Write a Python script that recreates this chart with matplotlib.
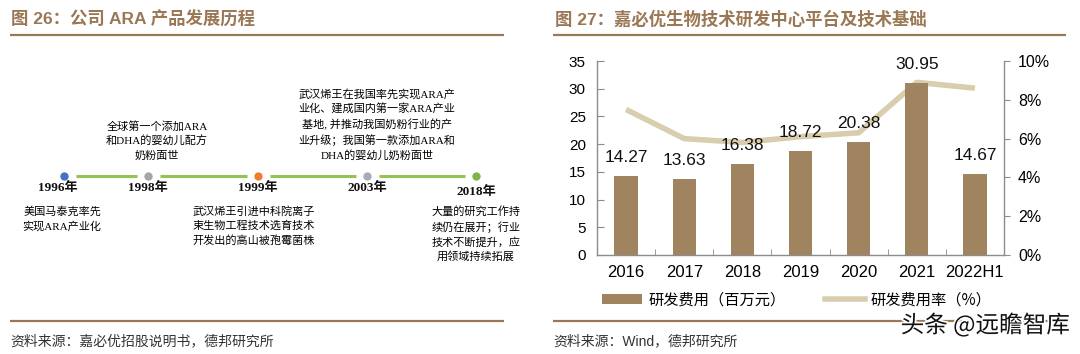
import matplotlib
matplotlib.use("Agg")
import matplotlib.pyplot as plt
from matplotlib.lines import Line2D
from matplotlib.patches import Patch
import matplotlib.patheffects as pe

# ---------------- data ----------------
categories = ["2016", "2017", "2018", "2019", "2020", "2021", "2022H1"]
rd_expense = [14.27, 13.63, 16.38, 18.72, 20.38, 30.95, 14.67]
rd_ratio = [7.5, 6.0, 5.8, 6.1, 6.3, 8.9, 8.6]  # %

years = ["1996年", "1998年", "1999年", "2003年", "2018年"]
events = [
    "美国马泰克率先\n实现ARA产业化",
    "全球第一个添加ARA\n和DHA的婴幼儿配方\n奶粉面世",
    "武汉烯王引进中科院离子\n束生物工程技术选育技术\n开发出的高山被孢霉菌株",
    "武汉烯王在我国率先实现ARA产\n业化、建成国内第一家ARA产业\n基地, 并推动我国奶粉行业的产\n业升级；我国第一款添加ARA和\nDHA的婴幼儿奶粉面世",
    "大量的研究工作持\n续仍在展开；行业\n技术不断提升，应\n用领域持续拓展",
]
event_side = ["below", "above", "below", "above", "below"]

title_left = "图 26：公司 ARA 产品发展历程"
title_right = "图 27：嘉必优生物技术研发中心平台及技术基础"
source_left = "资料来源：嘉必优招股说明书，德邦研究所"
source_right = "资料来源：Wind，德邦研究所"
legend_labels = ["研发费用（百万元）", "研发费用率（%）"]
watermark = "头条 @远瞻智库"

# ---------------- styles ----------------
CJK = ["Noto Sans CJK SC", "DejaVu Sans"]
SERIF_CJK = ["Liberation Serif", "Noto Sans CJK SC", "DejaVu Sans"]
SANS = ["Liberation Sans", "Noto Sans CJK SC", "DejaVu Sans"]
plt.rcParams["font.family"] = CJK
TITLE_C = "#9B7855"
BAR_C = "#A0845F"
LINE_C = "#D8CEAD"
AX_C = "#8C8C8C"
dot_colors = ["#4472C4", "#A5A5A5", "#ED7D31", "#ABABB8", "#7DB54A"]
GREEN = "#92C353"

W, H = 1080, 354
fig = plt.figure(figsize=(W / 100, H / 100), dpi=100)

# overlay axes in pixel coordinates for decoration
deco = fig.add_axes([0, 0, 1, 1])
deco.set_xlim(0, W)
deco.set_ylim(H, 0)
deco.axis("off")

# titles + rules
deco.text(11, 19, title_left, fontsize=12.5, fontweight="bold", color=TITLE_C,
          va="center", ha="left", family=SANS)
deco.text(555, 19, title_right, fontsize=12.5, fontweight="bold", color=TITLE_C,
          va="center", ha="left", family=SANS)
for x0, x1 in [(10, 504), (553, 1066)]:
    deco.plot([x0, x1], [35, 35], color=TITLE_C, lw=1.6, solid_capstyle="butt")
    deco.plot([x0, x1], [321, 321], color=TITLE_C, lw=1.6, solid_capstyle="butt")
deco.text(10, 341, source_left, fontsize=10, color="#333333", va="center", ha="left")
deco.text(553, 341, source_right, fontsize=10, color="#333333", va="center",
          ha="left", family=SANS)

# ---------------- timeline ----------------
node_x = [64, 148, 258, 367, 476]
node_y = 176
for i in range(len(node_x) - 1):
    deco.plot([node_x[i] + 12, node_x[i + 1] - 11], [node_y, node_y],
              color=GREEN, lw=2.2, solid_capstyle="butt")
for i, (x, yr, ev, side) in enumerate(zip(node_x, years, events, event_side)):
    deco.plot([x], [node_y], "o", color=dot_colors[i], ms=6, mec="none")
    ylab = 188 if i < 4 else 192
    xlab = x - 6 if i == 0 else x
    deco.text(xlab, ylab, yr, fontsize=9.5, fontweight="bold", ha="center",
              va="center", family=SERIF_CJK, color="#111111")
    if side == "above":
        deco.text(x + (10 if i == 3 else 9), 161, ev, fontsize=8, ha="center",
                  va="bottom", family=SERIF_CJK, linespacing=1.45, color="#000000")
    else:
        ex = {0: 62, 2: 254, 4: 476}[i]
        deco.text(ex, 206, ev, fontsize=8, ha="center", va="top",
                  family=SERIF_CJK, linespacing=1.45, color="#000000",
                  multialignment="center" if i != 2 else "left")

# ---------------- bar + line chart ----------------
ax = fig.add_axes([597 / W, (H - 255) / H, 407 / W, 194 / H])
ax.patch.set_alpha(0)
xpos = list(range(len(categories)))
bars = ax.bar(xpos, rd_expense, width=0.4, color=BAR_C, zorder=2)
ax.set_xlim(-0.5, len(categories) - 0.5)
ax.set_ylim(0, 35)
ax.set_yticks(range(0, 36, 5))
ax.set_xticks(xpos)
ax.set_xticklabels(categories, family=SANS, fontsize=12)
ax.set_xticks([i + 0.5 for i in range(len(categories) - 1)], minor=True)
ax.tick_params(axis="x", which="major", length=0, pad=7)
ax.tick_params(axis="x", which="minor", direction="in", length=4, color=AX_C)
ax.tick_params(axis="y", direction="in", length=5, color=AX_C, pad=8, labelsize=11)
for lab in ax.get_yticklabels():
    lab.set_family(SANS)
for s in ["top", "right"]:
    ax.spines[s].set_visible(False)
for s in ["left", "bottom"]:
    ax.spines[s].set_color(AX_C)
    ax.spines[s].set_linewidth(1)
for b, v in zip(bars, rd_expense):
    ax.annotate(f"{v:.2f}", (b.get_x() + b.get_width() / 2, v), xytext=(0, 8),
                textcoords="offset points", ha="center", va="bottom",
                fontsize=12.5, family=SANS, color="#111111", zorder=5)

ax2 = ax.twinx()
ax2.plot(xpos, [r / 100 for r in rd_ratio], color=LINE_C, lw=4, zorder=3,
         solid_joinstyle="round", solid_capstyle="butt")
ax2.set_ylim(0, 0.10)
ax2.set_yticks([0, 0.02, 0.04, 0.06, 0.08, 0.10])
ax2.set_yticklabels(["0%", "2%", "4%", "6%", "8%", "10%"], family=SANS, fontsize=11.5)
ax2.tick_params(axis="y", direction="out", length=4, color=AX_C, pad=6)
for s in ["top", "left", "bottom"]:
    ax2.spines[s].set_visible(False)
ax2.spines["right"].set_color(AX_C)
ax2.spines["right"].set_linewidth(1)
# keep bar labels above the line
ax.set_zorder(ax2.get_zorder() + 1)

handles = [Patch(facecolor=BAR_C, edgecolor="none"),
           Line2D([0], [0], color=LINE_C, lw=4)]
fig.legend(handles, legend_labels, loc="center", bbox_to_anchor=(797 / W, (H - 300) / H),
           ncol=2, frameon=False, fontsize=11, handlelength=2.6, handleheight=0.55,
           columnspacing=2.6, handletextpad=0.4)

# watermark
deco.text(1070, 325, watermark, fontsize=17, ha="right", va="center",
          color="#111111", family=CJK, zorder=10,
          path_effects=[pe.withStroke(linewidth=2.5, foreground="white")])

fig.savefig("out.png", dpi=100)
